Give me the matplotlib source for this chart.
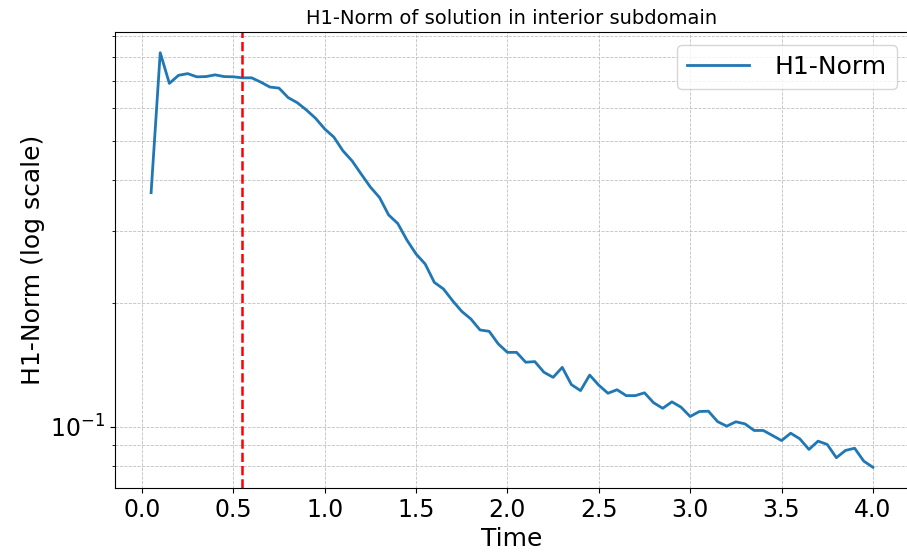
import numpy as np
import matplotlib
matplotlib.use("Agg")
import matplotlib.pyplot as plt

# time steps and H1-norm values
time = [0.05, 0.10, 0.15, 0.20, 0.25, 0.30, 0.35, 0.40, 0.45, 0.50,
        0.55, 0.60, 0.65, 0.70, 0.75, 0.80, 0.85, 0.90, 0.95, 1.00,
        1.05, 1.10, 1.15, 1.20, 1.25, 1.30, 1.35, 1.40, 1.45, 1.50,
        1.55, 1.60, 1.65, 1.70, 1.75, 1.80, 1.85, 1.90, 1.95, 2.00,
        2.05, 2.10, 2.15, 2.20, 2.25, 2.30, 2.35, 2.40, 2.45, 2.50,
        2.55, 2.60, 2.65, 2.70, 2.75, 2.80, 2.85, 2.90, 2.95, 3.00,
        3.05, 3.10, 3.15, 3.20, 3.25, 3.30, 3.35, 3.40, 3.45, 3.50,
        3.55, 3.60, 3.65, 3.70, 3.75, 3.80, 3.85, 3.90, 3.95, 4.00]
h1_norm = [0.373, 0.820, 0.690, 0.722, 0.729, 0.716, 0.717, 0.724, 0.717, 0.716,
           0.712, 0.712, 0.695, 0.676, 0.672, 0.637, 0.619, 0.594, 0.567, 0.534,
           0.510, 0.472, 0.446, 0.414, 0.385, 0.363, 0.329, 0.3135, 0.2856, 0.2641,
           0.2496, 0.2251, 0.2169, 0.2030, 0.1912, 0.1832, 0.1722, 0.1709, 0.1592, 0.1518,
           0.1518, 0.1436, 0.1441, 0.1357, 0.1319, 0.1395, 0.1266, 0.1224, 0.1336, 0.1262,
           0.1206, 0.1230, 0.1190, 0.1190, 0.1209, 0.1143, 0.1108, 0.1149, 0.1115, 0.1058,
           0.1088, 0.1090, 0.1028, 0.1002, 0.1027, 0.1015, 0.0978, 0.0978, 0.0951, 0.0924,
           0.0963, 0.0933, 0.0879, 0.0921, 0.0904, 0.0839, 0.0874, 0.0885, 0.0823, 0.0795]
t_marker = 0.55

fig = plt.figure(figsize=(9.07, 5.54), dpi=100)
ax = fig.add_axes([115/907, 66/554, 794/907, 456/554])

ax.plot(time, h1_norm, color='tab:blue', linewidth=2, label='H1-Norm')
ax.axvline(t_marker, color='red', linestyle='--', linewidth=1.8)
ax.set_yscale('log')

ax.set_title('H1-Norm of solution in interior subdomain', fontsize=14)
ax.set_xlabel('Time', fontsize=18)
ax.set_ylabel('H1-Norm (log scale)', fontsize=18)
ax.tick_params(axis='both', which='major', labelsize=17)
ax.spines['right'].set_visible(False)
ax.grid(True, which='both', linestyle='--', linewidth=0.6, color='#b0b0b0', alpha=0.8)
ax.legend(loc='upper right', fontsize=18, handlelength=2.5, handletextpad=1.0)

fig.savefig('out.png', dpi=100)
